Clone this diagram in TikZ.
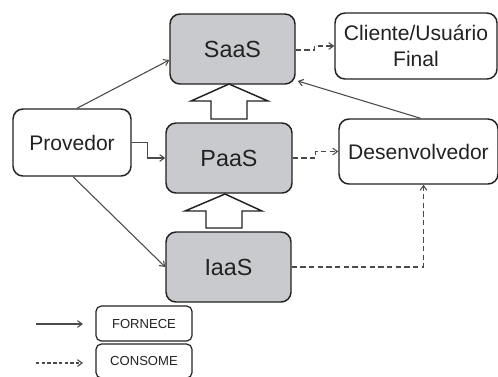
\documentclass[tikz,border=0pt]{standalone}
\usepackage{fontspec}
\setmainfont{Liberation Sans}
\usetikzlibrary{arrows.meta,calc}
\definecolor{boxgray}{HTML}{C9CACD}
\definecolor{linegray}{HTML}{4A4A4A}
\definecolor{txt}{HTML}{222222}
\tikzset{
  box/.style={draw=txt, line width=1.1pt, rounded corners=7.5pt, align=center, text=txt, inner sep=0pt},
  layer/.style={box, fill=boxgray, minimum width=125*0.75pt, minimum height=70*0.75pt, font=\fontsize{17.5}{20}\selectfont},
  actor/.style={box, fill=white, font=\fontsize{15.8}{19.5}\selectfont},
  legbox/.style={box, line width=0.9pt, rounded corners=4pt, minimum width=96*0.75pt, font=\fontsize{9.8}{11}\selectfont},
  provide/.style={draw=linegray, line width=0.8pt, -{Straight Barb[length=3.5pt,width=5pt]}},
  consume/.style={provide, dash pattern=on 4pt off 2.5pt},
  blockarrow/.style={draw=txt, line width=1.1pt, fill=white}
}
\begin{document}
\begin{tikzpicture}[x=0.75pt,y=-0.75pt]
\useasboundingbox (0,0) rectangle (498,376);
% layers
\node[layer] (saas) at (232.5,49) {SaaS};
\node[layer, minimum width=126*0.75pt] (paas) at (229,158) {PaaS};
\node[layer] (iaas) at (228.5,267) {IaaS};
% actors
\node[actor, minimum width=118*0.75pt, minimum height=67*0.75pt] (prov) at (72,142.5) {Provedor};
\node[actor, minimum width=162*0.75pt, minimum height=66*0.75pt] (cli) at (416,46) {Cliente/Usuário\\Final};
\node[actor, minimum width=159*0.75pt, minimum height=65*0.75pt] (dev) at (418.5,151.5) {Desenvolvedor};
% block arrows
\draw[blockarrow] (229,84) -- (268,101) -- (247,101) -- (247,119) -- (211,119) -- (211,101) -- (191,101) -- cycle;
\draw[blockarrow] (225,194) -- (262,211) -- (242,211) -- (242,228) -- (206,228) -- (206,211) -- (185,211) -- cycle;
% provides
\draw[provide] ($(prov.north)+(5,0)$) -- ($(saas.west)+(0,11)$);
\draw[provide] (prov.east) -- ++(16,0) |- (paas.west);
\draw[provide] ($(prov.south)+(1,0)$) -- (iaas.west);
\draw[provide] ($(dev.north)+(2,0)$) -- ($(saas.east)+(2,32)$);
% consumes
\draw[consume] ($(saas.east)+(0,1)$) -- ++(19,0) |- (cli.west);
\draw[consume] (paas.east) -- ++(23,0) |- (dev.west);
\draw[consume] (iaas.east) -| ($(dev.south)+(5,0)$);
% legend
\node[legbox, minimum height=35*0.75pt] (forn) at (144,323.5) {FORNECE};
\node[legbox, minimum height=34*0.75pt] (cons) at (144,361) {CONSOME};
\coordinate (fa) at (36,324);
\coordinate (fb) at (83,324);
\coordinate (ca) at (36,363);
\coordinate (cb) at (83,363);
\draw[provide] (fa) -- (fb);
\draw[consume, dash pattern=on 2.5pt off 1.8pt] (ca) -- (cb);
\end{tikzpicture}
\end{document}
